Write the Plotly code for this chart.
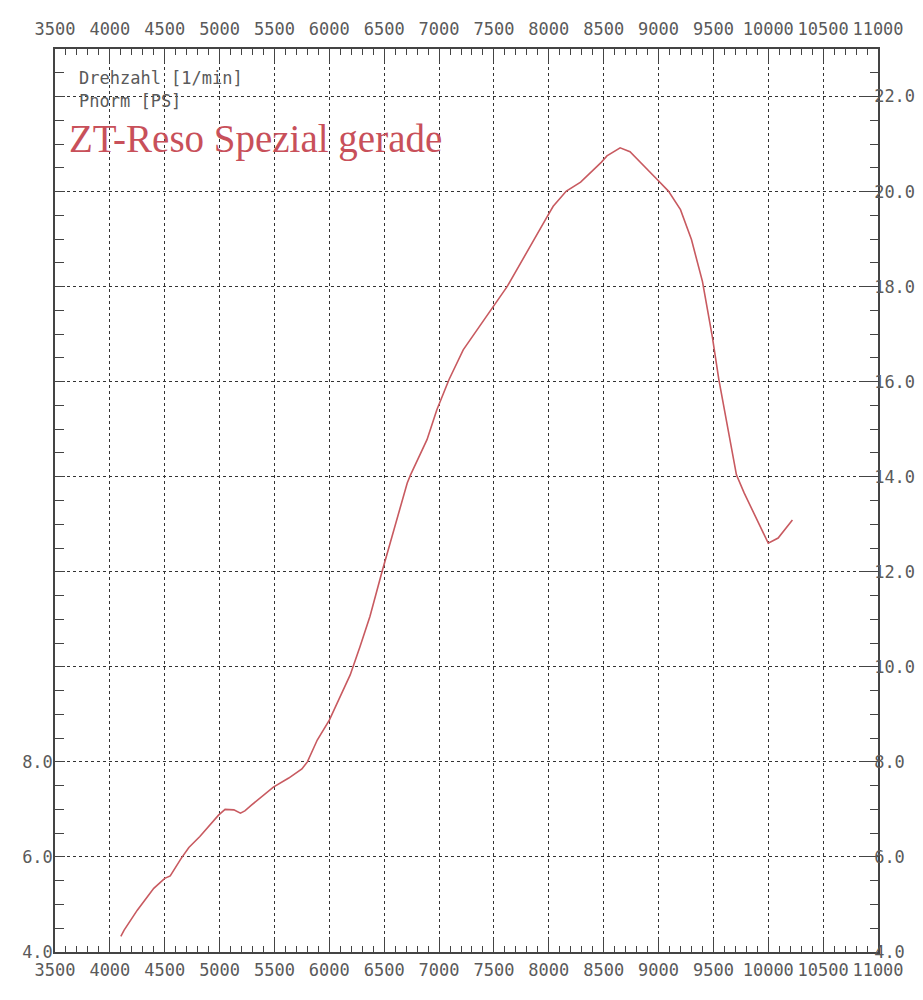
import plotly.graph_objects as go

# Data read from the dyno sheet
rpm = [4100, 4130, 4250, 4400, 4500, 4550, 4650, 4720, 4820, 4990, 5050, 5130, 5190,
       5230, 5290, 5430, 5490, 5630, 5750, 5800, 5890, 6000, 6100, 6190, 6280, 6370,
       6480, 6620, 6710, 6740, 6890, 6980, 7090, 7220, 7480, 7620, 7980, 8040, 8160,
       8290, 8480, 8530, 8650, 8740, 8990, 9090, 9200, 9300, 9400, 9490, 9550, 9620,
       9710, 9780, 9900, 10000, 10090, 10220]
pnorm = [4.33, 4.46, 4.88, 5.34, 5.55, 5.6, 5.97, 6.2, 6.43, 6.88, 7.0, 6.99, 6.92,
         6.97, 7.09, 7.37, 7.47, 7.66, 7.85, 8.0, 8.46, 8.88, 9.37, 9.83, 10.43, 11.06,
         12.0, 13.16, 13.87, 14.04, 14.78, 15.41, 16.04, 16.67, 17.55, 18.0, 19.45, 19.69, 20.01,
         20.2, 20.62, 20.75, 20.92, 20.84, 20.25, 20.01, 19.62, 18.99, 18.11, 16.95, 16.04, 15.13,
         14.04, 13.66, 13.09, 12.6, 12.71, 13.09]

x_ticks = list(range(3500, 11001, 500))
y_ticks = [4, 6, 8, 10, 12, 14, 16, 18, 20, 22]
left_labels = ["4.0", "6.0", "8.0", "", "", "", "", "", "", ""]
right_labels = ["4.0", "6.0", "8.0", "10.0", "12.0", "14.0", "16.0", "18.0", "20.0", "22.0"]

title_text = "ZT-Reso Spezial gerade"
legend_lines = ["Drehzahl [1/min]", "Pnorm [PS]"]

AX = "#444444"
TXT = "#5a5a5a"
GRID = "#333333"
tfont = dict(family="DejaVu Sans Mono", size=17, color=TXT)

L, R, T, B = 47, 53, 41, 56
PW = 923 - L - R
PH = 1000 - T - B

fig = go.Figure()
fig.add_trace(go.Scatter(x=rpm, y=pnorm, mode="lines",
                         line=dict(color="#c85a60", width=1.6),
                         showlegend=False, hoverinfo="skip"))
fig.add_trace(go.Scatter(x=rpm, y=pnorm, mode="lines", xaxis="x2", yaxis="y2",
                         line=dict(color="rgba(0,0,0,0)", width=0),
                         showlegend=False, hoverinfo="skip"))

common_x = dict(range=[3500, 11000], tickvals=x_ticks, ticktext=[str(v) for v in x_ticks],
                ticks="inside", ticklen=14, tickcolor=AX, tickwidth=1.3,
                showline=True, linecolor=AX, linewidth=1.5, zeroline=False,
                tickfont=tfont,
                minor=dict(tick0=3500, dtick=100, ticks="inside", ticklen=6,
                           tickcolor=AX, tickwidth=1.2, showgrid=False))

fig.update_layout(
    width=923, height=1000,
    margin=dict(l=L, r=R, t=T, b=B),
    paper_bgcolor="white", plot_bgcolor="white",
    xaxis=dict(**common_x, showgrid=True, gridcolor=GRID, gridwidth=1, griddash="3px,3px",
               ticklabelstandoff=2),
    xaxis2=dict(**common_x, overlaying="x", side="top", anchor="y2", showgrid=False,
                ticklabelstandoff=5),
    yaxis=dict(range=[4, 23], tickvals=y_ticks, ticktext=left_labels,
               ticks="inside", ticklen=10, tickcolor=AX, tickwidth=1.3,
               showline=True, linecolor=AX, linewidth=1.5, zeroline=False,
               showgrid=True, gridcolor=GRID, gridwidth=1, griddash="3px,3px",
               tickfont=tfont, ticklabelstandoff=-3,
               minor=dict(tick0=4, dtick=0.5, ticks="inside", ticklen=9,
                          tickcolor=AX, tickwidth=1.2, showgrid=False)),
    yaxis2=dict(range=[4, 23], tickvals=y_ticks, ticktext=right_labels,
                overlaying="y", side="right", anchor="x2",
                ticks="inside", ticklen=18, tickcolor=AX, tickwidth=1.3,
                showline=True, linecolor=AX, linewidth=1.5, zeroline=False,
                showgrid=False, tickfont=tfont, ticklabelstandoff=-9,
                minor=dict(tick0=4, dtick=0.5, ticks="inside", ticklen=8,
                           tickcolor=AX, tickwidth=1.2, showgrid=False)),
    showlegend=False,
)

fig.add_annotation(text=legend_lines[0], xref="paper", yref="paper",
                   x=22/PW, y=1 - (78 - 49)/PH, xanchor="left", yanchor="middle",
                   showarrow=False, font=dict(family="DejaVu Sans Mono", size=17, color=TXT))
fig.add_annotation(text=legend_lines[1], xref="paper", yref="paper",
                   x=22/PW, y=1 - (101 - 49)/PH, xanchor="left", yanchor="middle",
                   showarrow=False, font=dict(family="DejaVu Sans Mono", size=17, color=TXT))
fig.add_annotation(text=title_text, xref="paper", yref="paper",
                   x=12/PW, y=1 - (139 - 49)/PH, xanchor="left", yanchor="middle",
                   showarrow=False, font=dict(family="Liberation Serif", size=39, color="#c8505a"))

fig.write_html("out.html")
